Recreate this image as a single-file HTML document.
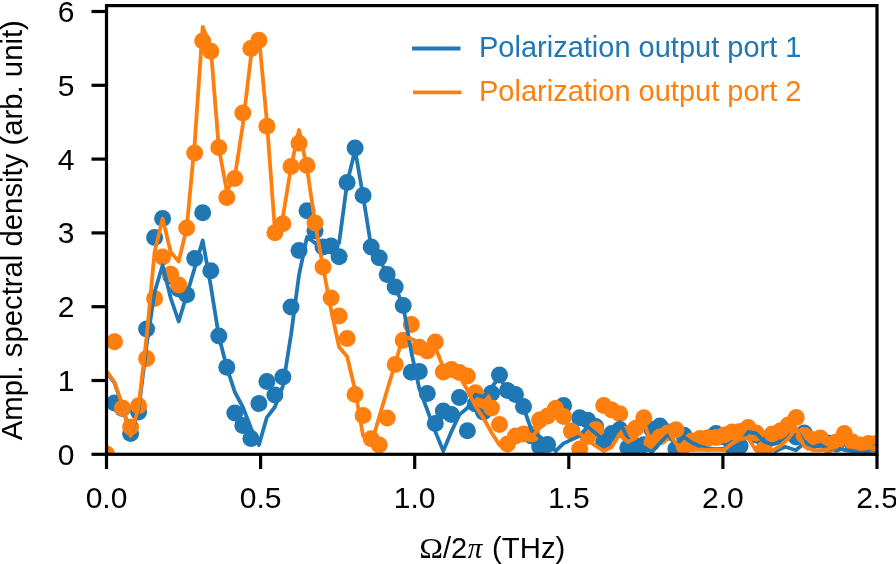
<!DOCTYPE html>
<html><head><meta charset="utf-8"><title>Spectral density</title>
<style>
html,body{margin:0;padding:0;background:#fff;}
svg{display:block;will-change:transform;}
text{font-family:"Liberation Sans",sans-serif;font-size:29px;fill:#000;}
.ser{font-family:"Liberation Serif",serif;}
</style></head><body>
<svg width="896" height="564" viewBox="0 0 896 564">
<rect width="896" height="564" fill="#fff"/>
<defs><clipPath id="ax"><rect x="106.5" y="5.6" width="770.5" height="448.7"/></clipPath></defs>
<g clip-path="url(#ax)">
<g fill="#1f77b4">
<circle cx="114.5" cy="403.0" r="8.5"/>
<circle cx="122.5" cy="408.5" r="8.5"/>
<circle cx="130.6" cy="433.4" r="8.5"/>
<circle cx="138.6" cy="412.0" r="8.5"/>
<circle cx="146.6" cy="328.9" r="8.5"/>
<circle cx="154.6" cy="237.6" r="8.5"/>
<circle cx="162.6" cy="218.6" r="8.5"/>
<circle cx="170.7" cy="276.0" r="8.5"/>
<circle cx="178.7" cy="289.0" r="8.5"/>
<circle cx="186.7" cy="294.7" r="8.5"/>
<circle cx="194.7" cy="258.6" r="8.5"/>
<circle cx="202.7" cy="212.8" r="8.5"/>
<circle cx="210.8" cy="270.7" r="8.5"/>
<circle cx="218.8" cy="336.0" r="8.5"/>
<circle cx="226.8" cy="367.3" r="8.5"/>
<circle cx="234.8" cy="412.9" r="8.5"/>
<circle cx="242.8" cy="425.4" r="8.5"/>
<circle cx="250.9" cy="438.4" r="8.5"/>
<circle cx="258.9" cy="403.6" r="8.5"/>
<circle cx="266.9" cy="381.6" r="8.5"/>
<circle cx="274.9" cy="395.0" r="8.5"/>
<circle cx="282.9" cy="377.0" r="8.5"/>
<circle cx="291.0" cy="307.1" r="8.5"/>
<circle cx="299.0" cy="250.5" r="8.5"/>
<circle cx="307.0" cy="210.7" r="8.5"/>
<circle cx="315.0" cy="230.9" r="8.5"/>
<circle cx="323.0" cy="247.0" r="8.5"/>
<circle cx="331.1" cy="246.1" r="8.5"/>
<circle cx="339.1" cy="256.8" r="8.5"/>
<circle cx="347.1" cy="182.6" r="8.5"/>
<circle cx="355.1" cy="148.0" r="8.5"/>
<circle cx="363.1" cy="195.5" r="8.5"/>
<circle cx="371.2" cy="247.0" r="8.5"/>
<circle cx="379.2" cy="257.7" r="8.5"/>
<circle cx="387.2" cy="274.6" r="8.5"/>
<circle cx="395.2" cy="287.1" r="8.5"/>
<circle cx="403.2" cy="305.6" r="8.5"/>
<circle cx="411.3" cy="372.3" r="8.5"/>
<circle cx="419.3" cy="371.4" r="8.5"/>
<circle cx="427.3" cy="393.5" r="8.5"/>
<circle cx="435.3" cy="423.6" r="8.5"/>
<circle cx="443.3" cy="411.0" r="8.5"/>
<circle cx="451.4" cy="414.6" r="8.5"/>
<circle cx="459.4" cy="397.4" r="8.5"/>
<circle cx="467.4" cy="430.7" r="8.5"/>
<circle cx="475.4" cy="404.0" r="8.5"/>
<circle cx="483.4" cy="412.0" r="8.5"/>
<circle cx="491.5" cy="393.2" r="8.5"/>
<circle cx="499.5" cy="375.0" r="8.5"/>
<circle cx="507.5" cy="390.5" r="8.5"/>
<circle cx="515.5" cy="394.4" r="8.5"/>
<circle cx="523.5" cy="406.5" r="8.5"/>
<circle cx="531.6" cy="436.0" r="8.5"/>
<circle cx="539.6" cy="446.5" r="8.5"/>
<circle cx="547.6" cy="444.5" r="8.5"/>
<circle cx="555.6" cy="409.0" r="8.5"/>
<circle cx="563.6" cy="405.5" r="8.5"/>
<circle cx="571.7" cy="431.0" r="8.5"/>
<circle cx="579.7" cy="417.8" r="8.5"/>
<circle cx="587.7" cy="420.3" r="8.5"/>
<circle cx="595.7" cy="426.5" r="8.5"/>
<circle cx="603.7" cy="442.0" r="8.5"/>
<circle cx="611.8" cy="433.4" r="8.5"/>
<circle cx="619.8" cy="429.6" r="8.5"/>
<circle cx="627.8" cy="447.8" r="8.5"/>
<circle cx="635.8" cy="446.0" r="8.5"/>
<circle cx="643.8" cy="444.8" r="8.5"/>
<circle cx="651.9" cy="429.4" r="8.5"/>
<circle cx="659.9" cy="426.0" r="8.5"/>
<circle cx="667.9" cy="432.0" r="8.5"/>
<circle cx="675.9" cy="449.0" r="8.5"/>
<circle cx="683.9" cy="435.3" r="8.5"/>
<circle cx="692.0" cy="442.0" r="8.5"/>
<circle cx="700.0" cy="441.0" r="8.5"/>
<circle cx="708.0" cy="438.0" r="8.5"/>
<circle cx="716.0" cy="433.5" r="8.5"/>
<circle cx="724.0" cy="437.0" r="8.5"/>
<circle cx="732.1" cy="447.0" r="8.5"/>
<circle cx="740.1" cy="446.0" r="8.5"/>
<circle cx="748.1" cy="430.0" r="8.5"/>
<circle cx="756.1" cy="435.0" r="8.5"/>
<circle cx="764.1" cy="440.0" r="8.5"/>
<circle cx="772.2" cy="436.0" r="8.5"/>
<circle cx="780.2" cy="433.0" r="8.5"/>
<circle cx="788.2" cy="428.0" r="8.5"/>
<circle cx="796.2" cy="437.0" r="8.5"/>
<circle cx="804.2" cy="433.0" r="8.5"/>
<circle cx="812.3" cy="441.0" r="8.5"/>
<circle cx="820.3" cy="440.0" r="8.5"/>
<circle cx="828.3" cy="443.0" r="8.5"/>
<circle cx="836.3" cy="444.0" r="8.5"/>
<circle cx="844.3" cy="436.0" r="8.5"/>
<circle cx="852.4" cy="444.0" r="8.5"/>
<circle cx="860.4" cy="447.0" r="8.5"/>
<circle cx="868.4" cy="445.0" r="8.5"/>
<circle cx="876.4" cy="445.0" r="8.5"/>
</g>
<g fill="#ff7f0e">
<circle cx="106.5" cy="454.0" r="8.5"/>
<circle cx="114.5" cy="341.8" r="8.5"/>
<circle cx="122.5" cy="408.0" r="8.5"/>
<circle cx="130.6" cy="427.1" r="8.5"/>
<circle cx="138.6" cy="405.7" r="8.5"/>
<circle cx="146.6" cy="358.4" r="8.5"/>
<circle cx="154.6" cy="298.6" r="8.5"/>
<circle cx="162.6" cy="257.0" r="8.5"/>
<circle cx="170.7" cy="274.2" r="8.5"/>
<circle cx="178.7" cy="285.0" r="8.5"/>
<circle cx="186.7" cy="228.0" r="8.5"/>
<circle cx="194.7" cy="152.9" r="8.5"/>
<circle cx="202.7" cy="40.9" r="8.5"/>
<circle cx="210.8" cy="51.2" r="8.5"/>
<circle cx="218.8" cy="147.5" r="8.5"/>
<circle cx="226.8" cy="197.5" r="8.5"/>
<circle cx="234.8" cy="178.4" r="8.5"/>
<circle cx="242.8" cy="112.9" r="8.5"/>
<circle cx="250.9" cy="48.4" r="8.5"/>
<circle cx="258.9" cy="40.2" r="8.5"/>
<circle cx="266.9" cy="126.3" r="8.5"/>
<circle cx="274.9" cy="232.7" r="8.5"/>
<circle cx="282.9" cy="223.8" r="8.5"/>
<circle cx="291.0" cy="166.4" r="8.5"/>
<circle cx="299.0" cy="143.2" r="8.5"/>
<circle cx="307.0" cy="165.5" r="8.5"/>
<circle cx="315.0" cy="222.9" r="8.5"/>
<circle cx="323.0" cy="267.0" r="8.5"/>
<circle cx="331.1" cy="297.9" r="8.5"/>
<circle cx="339.1" cy="316.1" r="8.5"/>
<circle cx="347.1" cy="338.4" r="8.5"/>
<circle cx="355.1" cy="394.5" r="8.5"/>
<circle cx="363.1" cy="415.5" r="8.5"/>
<circle cx="371.2" cy="438.8" r="8.5"/>
<circle cx="379.2" cy="445.0" r="8.5"/>
<circle cx="387.2" cy="418.0" r="8.5"/>
<circle cx="395.2" cy="364.5" r="8.5"/>
<circle cx="403.2" cy="340.2" r="8.5"/>
<circle cx="411.3" cy="324.6" r="8.5"/>
<circle cx="419.3" cy="347.3" r="8.5"/>
<circle cx="427.3" cy="350.9" r="8.5"/>
<circle cx="435.3" cy="342.0" r="8.5"/>
<circle cx="443.3" cy="372.0" r="8.5"/>
<circle cx="451.4" cy="369.5" r="8.5"/>
<circle cx="459.4" cy="372.5" r="8.5"/>
<circle cx="467.4" cy="375.9" r="8.5"/>
<circle cx="475.4" cy="392.7" r="8.5"/>
<circle cx="483.4" cy="400.5" r="8.5"/>
<circle cx="491.5" cy="408.0" r="8.5"/>
<circle cx="499.5" cy="424.5" r="8.5"/>
<circle cx="507.5" cy="444.0" r="8.5"/>
<circle cx="515.5" cy="436.0" r="8.5"/>
<circle cx="523.5" cy="434.0" r="8.5"/>
<circle cx="531.6" cy="434.0" r="8.5"/>
<circle cx="539.6" cy="420.0" r="8.5"/>
<circle cx="547.6" cy="416.0" r="8.5"/>
<circle cx="555.6" cy="408.4" r="8.5"/>
<circle cx="563.6" cy="416.6" r="8.5"/>
<circle cx="571.7" cy="431.5" r="8.5"/>
<circle cx="579.7" cy="449.0" r="8.5"/>
<circle cx="587.7" cy="436.5" r="8.5"/>
<circle cx="595.7" cy="429.6" r="8.5"/>
<circle cx="603.7" cy="405.6" r="8.5"/>
<circle cx="611.8" cy="410.0" r="8.5"/>
<circle cx="619.8" cy="413.8" r="8.5"/>
<circle cx="627.8" cy="434.0" r="8.5"/>
<circle cx="635.8" cy="428.2" r="8.5"/>
<circle cx="643.8" cy="417.8" r="8.5"/>
<circle cx="651.9" cy="443.0" r="8.5"/>
<circle cx="659.9" cy="437.0" r="8.5"/>
<circle cx="667.9" cy="433.0" r="8.5"/>
<circle cx="675.9" cy="429.8" r="8.5"/>
<circle cx="683.9" cy="446.0" r="8.5"/>
<circle cx="692.0" cy="441.0" r="8.5"/>
<circle cx="700.0" cy="438.5" r="8.5"/>
<circle cx="708.0" cy="438.0" r="8.5"/>
<circle cx="716.0" cy="437.5" r="8.5"/>
<circle cx="724.0" cy="435.0" r="8.5"/>
<circle cx="732.1" cy="432.0" r="8.5"/>
<circle cx="740.1" cy="431.5" r="8.5"/>
<circle cx="748.1" cy="427.5" r="8.5"/>
<circle cx="756.1" cy="433.0" r="8.5"/>
<circle cx="764.1" cy="449.0" r="8.5"/>
<circle cx="772.2" cy="434.0" r="8.5"/>
<circle cx="780.2" cy="431.0" r="8.5"/>
<circle cx="788.2" cy="425.0" r="8.5"/>
<circle cx="796.2" cy="417.6" r="8.5"/>
<circle cx="804.2" cy="435.5" r="8.5"/>
<circle cx="812.3" cy="439.5" r="8.5"/>
<circle cx="820.3" cy="438.0" r="8.5"/>
<circle cx="828.3" cy="445.0" r="8.5"/>
<circle cx="836.3" cy="442.0" r="8.5"/>
<circle cx="844.3" cy="433.5" r="8.5"/>
<circle cx="852.4" cy="442.0" r="8.5"/>
<circle cx="860.4" cy="445.0" r="8.5"/>
<circle cx="868.4" cy="443.5" r="8.5"/>
<circle cx="876.4" cy="443.5" r="8.5"/>
</g>
<polyline fill="none" stroke="#1f77b4" stroke-width="3.8" stroke-linejoin="round" stroke-linecap="butt" points="106.5,372.0 114.5,383.0 122.5,406.0 130.6,436.0 138.6,410.0 146.6,345.0 154.6,292.0 162.6,265.3 170.7,298.0 178.7,321.5 186.7,295.0 194.7,268.0 202.7,240.5 210.8,286.0 218.8,336.0 226.8,367.5 234.8,392.0 242.8,407.0 250.9,428.0 258.9,445.0 266.9,417.3 274.9,407.0 282.9,386.0 291.0,335.0 299.0,275.0 307.0,237.0 315.0,243.0 323.0,247.0 331.1,247.0 339.1,243.0 347.1,183.0 355.1,150.0 363.1,196.0 371.2,247.0 379.2,258.0 387.2,275.0 395.2,287.0 403.2,306.0 411.3,352.0 419.3,388.5 427.3,410.0 435.3,431.6 443.3,451.0 451.4,431.6 459.4,414.6 467.4,408.0 475.4,394.5 483.4,397.0 491.5,387.5 499.5,377.0 507.5,391.0 515.5,394.5 523.5,407.5 531.6,430.5 539.6,436.5 547.6,443.0 555.6,451.0 563.6,443.4 571.7,439.6 579.7,435.9 587.7,426.6 595.7,433.4 603.7,440.0 611.8,432.0 619.8,422.0 627.8,438.5 635.8,445.0 643.8,447.0 651.9,452.0 659.9,443.0 667.9,434.5 675.9,444.5 683.9,437.0 692.0,442.7 700.0,446.3 708.0,448.5 716.0,449.0 724.0,449.0 732.1,448.0 740.1,443.0 748.1,432.0 756.1,433.3 764.1,441.8 772.2,444.5 780.2,442.5 788.2,437.7 796.2,429.5 804.2,442.0 812.3,447.5 820.3,444.8 828.3,449.5 836.3,448.0 844.3,450.0 852.4,451.0 860.4,451.0 868.4,450.0 876.4,445.0"/>
<polyline fill="none" stroke="#1f77b4" stroke-width="3.8" stroke-linejoin="round" points="773.6,452 785.2,446.8 795.9,450.2 805.5,442 808.5,450"/>
<polyline fill="none" stroke="#ff7f0e" stroke-width="3.8" stroke-linejoin="round" stroke-linecap="butt" points="106.5,371.0 114.5,382.0 122.5,406.0 130.6,436.0 138.6,407.0 146.6,337.0 154.6,252.0 162.6,218.6 170.7,252.0 178.7,261.5 186.7,228.0 194.7,143.0 202.7,27.0 210.8,48.0 218.8,148.0 226.8,191.0 234.8,177.0 242.8,125.0 250.9,57.0 258.9,36.0 266.9,122.0 274.9,230.0 282.9,217.0 291.0,167.0 299.0,130.0 307.0,168.0 315.0,223.0 323.0,267.0 331.1,310.0 339.1,347.0 347.1,356.5 355.1,390.0 363.1,436.0 371.2,444.0 379.2,417.0 387.2,390.0 395.2,363.5 403.2,336.0 411.3,339.0 419.3,342.3 427.3,345.6 435.3,347.0 443.3,368.0 451.4,372.0 459.4,376.0 467.4,390.0 475.4,406.0 483.4,418.0 491.5,432.5 499.5,445.0 507.5,448.0 515.5,441.0 523.5,437.0 531.6,437.0 539.6,428.0 547.6,421.0 555.6,414.0 563.6,418.0 571.7,430.0 579.7,433.4 587.7,439.8 595.7,446.0 603.7,451.0 611.8,447.0 619.8,433.5 627.8,442.0 635.8,438.0 643.8,421.0 651.9,446.0 659.9,437.0 667.9,430.0 675.9,443.6 683.9,449.0 692.0,450.0 700.0,449.5 708.0,450.0 716.0,449.5 724.0,450.0 732.1,443.5 740.1,439.0 748.1,438.0 756.1,450.7 764.1,452.0 772.2,450.7 780.2,446.0 788.2,438.6 796.2,428.5 804.2,446.5 812.3,450.0 820.3,450.5 828.3,449.0 836.3,447.0 844.3,441.0 852.4,447.0 860.4,449.0 868.4,448.0 876.4,447.0"/>
</g>
<rect x="106.5" y="5.6" width="770.5" height="448.7" fill="none" stroke="#000" stroke-width="3.2"/>
<g stroke="#000" stroke-width="3.2">
<line x1="106.5" y1="454.3" x2="106.5" y2="469.0"/>
<line x1="260.6" y1="454.3" x2="260.6" y2="469.0"/>
<line x1="414.7" y1="454.3" x2="414.7" y2="469.0"/>
<line x1="568.8" y1="454.3" x2="568.8" y2="469.0"/>
<line x1="722.9" y1="454.3" x2="722.9" y2="469.0"/>
<line x1="877.0" y1="454.3" x2="877.0" y2="469.0"/>
<line x1="91.5" y1="454.3" x2="106.5" y2="454.3"/>
<line x1="91.5" y1="380.5" x2="106.5" y2="380.5"/>
<line x1="91.5" y1="306.7" x2="106.5" y2="306.7"/>
<line x1="91.5" y1="232.9" x2="106.5" y2="232.9"/>
<line x1="91.5" y1="159.1" x2="106.5" y2="159.1"/>
<line x1="91.5" y1="85.3" x2="106.5" y2="85.3"/>
<line x1="91.5" y1="11.5" x2="106.5" y2="11.5"/>
</g>
<text x="106.5" y="508.3" text-anchor="middle" style="font-size:30px">0.0</text>
<text x="260.6" y="508.3" text-anchor="middle" style="font-size:30px">0.5</text>
<text x="414.7" y="508.3" text-anchor="middle" style="font-size:30px">1.0</text>
<text x="568.8" y="508.3" text-anchor="middle" style="font-size:30px">1.5</text>
<text x="722.9" y="508.3" text-anchor="middle" style="font-size:30px">2.0</text>
<text x="877.0" y="508.3" text-anchor="middle" style="font-size:30px">2.5</text>
<text x="74.4" y="464.7" text-anchor="end" style="font-size:30px">0</text>
<text x="74.4" y="390.9" text-anchor="end" style="font-size:30px">1</text>
<text x="74.4" y="317.1" text-anchor="end" style="font-size:30px">2</text>
<text x="74.4" y="243.3" text-anchor="end" style="font-size:30px">3</text>
<text x="74.4" y="169.5" text-anchor="end" style="font-size:30px">4</text>
<text x="74.4" y="95.7" text-anchor="end" style="font-size:30px">5</text>
<text x="74.4" y="21.9" text-anchor="end" style="font-size:30px">6</text>
<text transform="translate(22.3,230.2) rotate(-90)" text-anchor="middle" style="font-size:29.3px">Ampl. spectral density (arb. unit)</text>
<text x="419.3" y="557.5" class="ser" textLength="23.8" lengthAdjust="spacingAndGlyphs">Ω</text><text x="443" y="557.5">/2</text><text x="467.7" y="557.5" class="ser" font-style="italic">π</text><text x="492.1" y="557.5" style="font-size:29.3px">(THz)</text>
<line x1="412" y1="48.5" x2="460.5" y2="48.5" stroke="#1f77b4" stroke-width="3.8"/>
<line x1="413" y1="92.3" x2="461.5" y2="92.3" stroke="#ff7f0e" stroke-width="3.8"/>
<text x="479" y="56.8" style="fill:#1f77b4">Polarization output port 1</text>
<text x="479" y="100.5" style="fill:#ff7f0e">Polarization output port 2</text>
</svg></body></html>
